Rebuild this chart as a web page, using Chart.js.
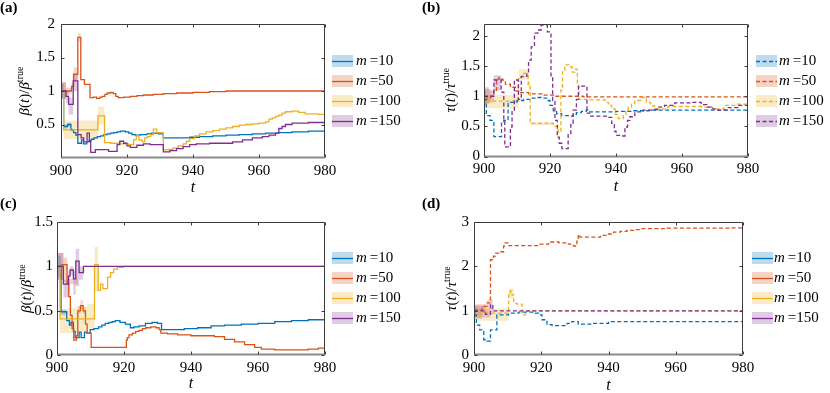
<!DOCTYPE html>
<html><head><meta charset="utf-8">
<script src="https://cdn.jsdelivr.net/npm/chart.js@4.4.1/dist/chart.umd.min.js"></script>
<style>
body{margin:0;background:#fff;width:830px;height:393px;overflow:hidden;position:relative}
canvas{position:absolute;display:block}
</style></head><body>
<canvas id="ca" width="415" height="196" style="left:0;top:0"></canvas>
<canvas id="cb" width="415" height="196" style="left:415px;top:0"></canvas>
<canvas id="cc" width="415" height="197" style="left:0;top:196px"></canvas>
<canvas id="cd" width="415" height="197" style="left:415px;top:196px"></canvas>
<script>
// ---------- data ----------
const mValues = ['10','50','100','150'];
const seriesColors = ['#0072BD','#D95319','#EDB120','#7E2F8E'];
const xTicks = [900,920,940,960,980];
const yTicksA = [0.5,1,1.5,2];
const yTicksB = [0,0.5,1,1.5,2];
const yTicksC = [0,0.5,1,1.5];
const yTicksD = [0,1,2,3];

// panel (a): beta(t)/beta_true, [t, value]
const a_m10 = [[900,1.0],[900.8,0.47],[902,0.5],[903,0.42],[903.8,0.38],[904.5,0.34],[905.1,0.22],[906.2,0.27],[906.8,0.21],[907.8,0.24],[908.5,0.26],[909.2,0.28],[910,0.3],[911,0.32],[912,0.33],[913,0.35],[914,0.36],[915,0.37],[916,0.38],[917,0.39],[918,0.4],[919.5,0.39],[920.5,0.37],[921.5,0.35],[922.5,0.34],[924,0.35],[926,0.36],[927.5,0.37],[929.5,0.36],[931,0.3],[935,0.3],[939,0.31],[942,0.32],[946,0.33],[950,0.34],[954,0.35],[958,0.36],[962,0.37],[966,0.38],[970,0.39],[975,0.4],[980,0.405]];
const a_m50 = [[900,1.0],[903.2,1.07],[903.8,1.25],[905.1,1.8],[906,1.17],[907.1,1.1],[908.8,0.9],[909.8,0.91],[910.8,0.89],[911.8,0.91],[912.5,0.92],[913.3,0.95],[914,0.97],[915,0.98],[915.8,0.96],[916.6,0.92],[917.3,0.9],[919,0.91],[921,0.92],[923,0.93],[925,0.94],[928,0.95],[931,0.96],[935,0.97],[940,0.98],[945,0.99],[950,1.0],[980,1.0]];
const a_m100 = [[900,1.0],[900.8,0.42],[911.2,0.63],[913.2,0.23],[915,0.22],[918,0.21],[920.5,0.2],[922,0.27],[922.8,0.33],[923.6,0.27],[924.6,0.24],[925.4,0.3],[926.2,0.32],[927.2,0.35],[928,0.43],[929,0.38],[931,0.12],[932.5,0.13],[934,0.15],[935.5,0.18],[937,0.21],[938,0.25],[939,0.29],[940.5,0.33],[942,0.36],[944,0.39],[946,0.41],[948,0.43],[950,0.45],[952,0.47],[954,0.49],[956,0.5],[958,0.51],[960,0.52],[962,0.54],[963,0.58],[964,0.6],[965,0.62],[966,0.64],[967,0.67],[968,0.69],[970,0.7],[972,0.68],[974,0.66],[976,0.66],[978,0.65],[980,0.64]];
const a_m150 = [[900,1.0],[901.5,0.92],[902.3,0.8],[903.7,1.15],[905.1,0.35],[906.1,0.3],[906.9,0.24],[907.9,0.37],[908.6,0.25],[909,0.085],[910.4,0.125],[914.4,0.1],[917,0.2],[917.8,0.25],[919,0.22],[920,0.18],[921,0.16],[923,0.19],[925,0.21],[927,0.2],[931,0.09],[933,0.11],[935,0.14],[937,0.17],[939,0.2],[941,0.21],[945,0.22],[950,0.22],[952,0.24],[955,0.27],[958,0.3],[961,0.32],[963,0.34],[965,0.37],[966,0.44],[967,0.47],[968,0.5],[970,0.52],[975,0.53],[980,0.52]];
// bands [t, low, high]
const a_m10_band = [[900,0.9,1.1],[900.8,0.44,0.5],[902,0.47,0.53],[903,0.4,0.44],[903.8,0.4,0.44]];
const a_m50_band = [[900,0.88,1.13],[901.5,0.95,1.05],[903.2,1.02,1.12],[903.8,1.15,1.35],[905.1,1.74,1.86],[906,1.74,1.86]];
const a_m100_band = [[900,0.9,1.1],[900.8,0.28,0.56],[911.2,0.5,0.77],[913.2,0.5,0.77]];
const a_m150_band = [[900,0.88,1.13],[901.5,0.82,1.0],[902.3,0.65,0.9],[903.7,1.0,1.25],[905.1,1.0,1.25]];

// panel (b): tau(t)/tau_true
const b_m10 = [[900,0.95],[900.7,0.68],[901.8,0.6],[903,0.33],[905.3,0.55],[906,0.6],[907.3,0.88],[908,0.9],[910,0.93],[912,0.95],[914,0.97],[916,0.98],[918,0.97],[919,0.93],[920,0.85],[921,0.76],[922,0.71],[923.5,0.68],[926,0.67],[927,0.7],[928,0.73],[929.5,0.75],[931,0.77],[932,0.74],[936,0.74],[940,0.75],[945,0.76],[950,0.77],[980,0.77]];
const b_m50 = [[900,0.97],[902,1.0],[903,1.1],[903.8,1.28],[904.5,1.31],[905.5,1.27],[906.5,1.2],[908,1.15],[909.5,1.09],[910.5,1.06],[913.5,1.04],[917.5,1.02],[921.5,1.0],[930,0.99],[980,0.99]];
const b_m100 = [[900,1.0],[900.5,0.92],[910.5,1.32],[912,1.38],[913.4,1.2],[914,0.55],[921,0.5],[922.5,0.4],[923.3,1.1],[923.8,1.43],[924.5,1.52],[926,1.49],[926.7,1.4],[927.5,1.45],[928.3,1.2],[928.8,0.95],[931,0.94],[936.7,0.9],[937.7,0.85],[938.7,0.79],[939.7,0.7],[940.7,0.63],[942.2,0.68],[943,0.75],[943.7,0.82],[944.7,0.88],[945.7,0.93],[947.7,0.98],[949.2,0.9],[950.5,0.84],[951.7,0.79],[955.7,0.83],[966,0.82],[969.3,0.79],[972.8,0.85],[976,0.87],[980,0.89]];
const b_m150 = [[900,1.0],[903,1.27],[905.2,1.07],[906,0.6],[906.3,0.16],[908,0.49],[908.5,0.77],[909.2,1.27],[910.4,0.95],[911.3,1.33],[913,1.38],[913.5,1.6],[914.3,1.82],[915.3,2.05],[916.3,2.1],[917.3,2.18],[919.2,2.07],[920.3,1.32],[920.8,0.93],[921.5,0.6],[922.2,0.32],[922.8,0.22],[923.6,0.13],[925.5,0.38],[926.3,0.55],[927,0.77],[928,0.95],[928.6,1.17],[931.2,0.72],[932.3,0.67],[937,0.65],[938.7,0.55],[939.5,0.42],[940,0.35],[941.5,0.34],[942.7,0.49],[943.5,0.6],[944.2,0.66],[945.7,0.74],[948.2,0.77],[951.7,0.78],[953,0.82],[954.7,0.85],[957.8,0.89],[962.8,0.9],[965.8,0.86],[967.5,0.82],[968.8,0.79],[970.8,0.77],[973.8,0.81],[976.9,0.85],[980,0.83]];
const b_m10_band = [[900,0.85,1.1],[900.7,0.85,1.1]];
const b_m50_band = [[900,0.88,1.12],[902,0.9,1.08],[902,0.9,1.08]];
const b_m100_band = [[900.5,0.8,1.02],[910.5,1.28,1.45],[913.4,1.15,1.25],[914,0.52,0.57],[921,0.52,0.57]];
const b_m150_band = [[900,0.88,1.15],[901.5,0.9,1.1],[903,1.1,1.35],[905.2,1.1,1.35]];

// panel (c): beta(t)/beta_true
const c_m10 = [[900,1.0],[901.2,0.49],[902.9,0.39],[903.7,0.34],[904.2,0.37],[904.9,0.27],[905.4,0.2],[906.6,0.26],[907.2,0.2],[908.2,0.26],[908.9,0.25],[909.9,0.29],[911,0.3],[912.4,0.32],[913.4,0.34],[914.4,0.36],[915.5,0.37],[916.5,0.38],[917.4,0.39],[918.8,0.37],[920.4,0.35],[921.9,0.31],[923,0.32],[924.5,0.33],[926.4,0.36],[928.4,0.37],[930,0.36],[931.2,0.29],[935,0.29],[938,0.3],[942,0.31],[946,0.33],[950,0.34],[955,0.35],[960,0.36],[965,0.38],[970,0.39],[975,0.4],[980,0.4]];
const c_m50 = [[900,1.0],[901.5,1.02],[903,0.8],[903.5,0.66],[904,0.45],[904.5,0.3],[905,0.17],[905.8,0.22],[906.2,0.5],[907,0.56],[907.8,0.5],[908.5,0.35],[909,0.25],[910.2,0.09],[920.7,0.17],[921,0.2],[921.5,0.23],[922.5,0.25],[923.5,0.27],[924.5,0.28],[925.5,0.3],[926.5,0.31],[928,0.32],[929.5,0.31],[930.5,0.29],[931,0.25],[933,0.24],[936,0.23],[940,0.22],[945,0.22],[947,0.21],[950,0.18],[953,0.15],[956,0.12],[959,0.09],[961,0.07],[965,0.06],[970,0.06],[975,0.07],[978,0.08],[980,0.1]];
const c_m100 = [[900,1.0],[900.9,0.41],[911.2,1.02],[912.3,0.73],[913,0.8],[913.7,0.75],[915.1,0.88],[916,0.93],[916.9,0.97],[918,0.99],[920,1.0],[980,1.0]];
const c_m150 = [[900,1.0],[901.9,0.8],[903.4,0.89],[903.9,0.96],[904.9,0.86],[905.6,1.06],[906.6,0.93],[907.9,1.0],[980,1.0]];
const c_m10_band = [[900,0.88,1.12],[901.2,0.45,0.52],[902.9,0.45,0.52]];
const c_m50_band = [[900,0.85,1.15],[901.9,0.83,1.1],[903,0.8,0.86],[903.5,0.8,0.86],[906.2,0.47,0.55],[907,0.52,0.62],[907.8,0.47,0.54],[908.5,0.47,0.54]];
const c_m100_band = [[900.9,0.25,0.5],[903,0.25,0.53],[906,0.27,0.55],[909,0.3,0.58],[911.2,0.72,1.22],[912.3,0.72,1.22]];
const c_m150_band = [[900,0.85,1.15],[901.9,0.65,0.85],[903.4,0.7,0.95],[903.9,0.9,1.0],[904.9,0.68,0.95],[905.6,0.78,1.2],[906.6,0.85,1.0],[907.9,0.85,1.0]];

// panel (d): tau(t)/tau_true
const d_m10 = [[900,0.91],[900.7,0.68],[901.7,0.57],[902.9,0.35],[903.9,0.32],[904.9,0.57],[906.8,0.91],[910.3,0.95],[913.3,0.97],[918.2,0.95],[919.2,0.91],[920.2,0.8],[921.7,0.69],[923.2,0.67],[927.7,0.72],[929.1,0.76],[931,0.7],[935,0.72],[940,0.76],[980,0.76]];
const d_m50 = [[900,1.02],[902.4,1.1],[903.9,1.18],[904.9,2.15],[905.8,2.23],[906.4,2.3],[907.3,2.33],[908.8,2.46],[909.3,2.53],[910.1,2.47],[919.2,2.5],[922.2,2.55],[925.2,2.53],[928.1,2.5],[929.6,2.46],[930.6,2.57],[931,2.71],[931.5,2.66],[937.6,2.7],[939.5,2.73],[941.5,2.77],[943.5,2.79],[945.5,2.81],[947.5,2.83],[949.5,2.85],[957.4,2.86],[971.3,2.86],[976,2.87],[980,2.88]];
const d_m100 = [[900,1.0],[900.8,0.95],[910.3,1.36],[910.8,1.45],[911.3,1.36],[911.8,1.17],[912.8,1.15],[914.3,0.95],[914.8,0.91],[915.3,0.99],[916,1.0],[980,1.0]];
const d_m150 = [[900,1.0],[903.4,0.92],[904.9,1.14],[905.6,1.0],[980,1.0]];
const d_m10_band = [[900,0.85,1.1],[900.7,0.85,1.1]];
const d_m50_band = [[900,0.82,1.15],[902.4,0.95,1.15],[903.9,1.0,1.25],[904.9,1.0,1.25]];
const d_m100_band = [[900.8,0.78,1.05],[910.3,1.28,1.5],[911.8,1.28,1.5]];
const d_m150_band = [[900,0.85,1.12],[903.4,0.85,1.0],[904.9,0.98,1.25],[905.6,0.98,1.25]];

// ---------- helpers ----------
function rgba(hex, a){const n=parseInt(hex.slice(1),16);return `rgba(${n>>16},${(n>>8)&255},${n&255},${a})`;}
function lineDs(arr, color, dashed, order){
  return {data:arr.map(p=>({x:p[0],y:p[1]})), borderColor:color, borderWidth:1.3,
    borderDash: dashed?[4,2.5]:[], stepped:true, pointRadius:0, fill:false, order:order};
}
function bandDs(arr, color){
  return [
    {data:arr.map(p=>({x:p[0],y:p[2]})), borderColor:'rgba(0,0,0,0)', borderWidth:0, stepped:true, pointRadius:0, fill:false, order:20},
    {data:arr.map(p=>({x:p[0],y:p[1]})), borderColor:'rgba(0,0,0,0)', borderWidth:0, stepped:true, pointRadius:0, fill:'-1', backgroundColor:rgba(color,0.25), order:20}
  ];
}
const SERIF = '"Liberation Serif", "DejaVu Serif", serif';

function deco(p){
  return {id:'deco', afterDraw(chart){
    const ctx=chart.ctx, a=chart.chartArea, xs=chart.scales.x, ys=chart.scales.y;
    ctx.save();
    // frame
    const L=Math.round(a.left)+0.5, T=Math.round(a.top)+0.5, R=Math.round(a.right)-0.5, B=Math.round(a.bottom)-0.5;
    ctx.strokeStyle='#3c3c3c'; ctx.lineWidth=1; ctx.setLineDash([]);
    ctx.beginPath(); ctx.moveTo(L,B); ctx.lineTo(L,T); ctx.lineTo(R,T); ctx.lineTo(R,B); ctx.stroke();
    ctx.strokeStyle='#8a8a8a'; ctx.lineWidth=2;
    ctx.beginPath(); ctx.moveTo(L-0.5,B); ctx.lineTo(R+0.5,B); ctx.stroke();
    // inward ticks
    ctx.strokeStyle='#3c3c3c'; ctx.lineWidth=1;
    ctx.beginPath();
    xTicks.forEach(v=>{const x=Math.round(xs.getPixelForValue(v))+0.5; ctx.moveTo(x,B); ctx.lineTo(x,B-3); ctx.moveTo(x,T); ctx.lineTo(x,T+3);});
    p.yTicks.forEach(v=>{const y=Math.round(ys.getPixelForValue(v))+0.5; ctx.moveTo(L,y); ctx.lineTo(L+3,y); ctx.moveTo(R,y); ctx.lineTo(R-3,y);});
    ctx.stroke();
    // legend
    ctx.textBaseline='middle';
    mValues.forEach((m,i)=>{
      const y=p.legend.y0+20*i, c=seriesColors[i];
      ctx.fillStyle=rgba(c,0.25); ctx.fillRect(p.legend.ix, y-6, 21, 12);
      ctx.strokeStyle=c; ctx.lineWidth=1.3; ctx.setLineDash(p.legendDashed?[4,2.5]:[]);
      ctx.beginPath(); ctx.moveTo(p.legend.ix, y+0.5); ctx.lineTo(p.legend.ix+21, y+0.5); ctx.stroke();
      ctx.setLineDash([]);
      ctx.fillStyle='#000'; ctx.textAlign='left';
      ctx.font='italic 15px '+SERIF; ctx.fillText('m', p.legend.tx, y);
      const w=ctx.measureText('m').width;
      ctx.font='15px '+SERIF; ctx.fillText('=' + m, p.legend.tx+w+3, y);
    });
    // y title (rotated)
    const cy=(a.top+a.bottom)/2;
    ctx.translate(p.yTitleX, cy); ctx.rotate(-Math.PI/2);
    const parts=[[p.sym,'italic 15px',0],['(','15px',0],['t','italic 15px',0],[')/','15px',0],[p.sym,'italic 15px',0],['true','10px',-6]];
    let tw=0; parts.forEach(q=>{ctx.font=q[1]+' '+SERIF; tw+=ctx.measureText(q[0]).width;});
    let x0=-tw/2; ctx.fillStyle='#000'; ctx.textAlign='left'; ctx.textBaseline='alphabetic';
    parts.forEach(q=>{ctx.font=q[1]+' '+SERIF; ctx.fillText(q[0], x0, 5+q[2]); x0+=ctx.measureText(q[0]).width;});
    ctx.setTransform(1,0,0,1,0,0);
    // x title
    ctx.font='italic 16px '+SERIF; ctx.textAlign='center'; ctx.textBaseline='middle';
    ctx.fillText('t', (a.left+a.right)/2, p.xTitleY);
    // panel label
    ctx.font='bold 15px '+SERIF; ctx.textAlign='left'; ctx.textBaseline='top';
    ctx.fillText(p.label, p.labelX, 1);
    ctx.restore();
  }};
}

function makeChart(p){
  const cv=document.getElementById(p.canvas);
  const W=cv.width, H=cv.height;
  const datasets=[];
  p.bands.forEach((b,i)=>datasets.push(...bandDs(b, seriesColors[i])));
  p.lines.forEach((l,i)=>datasets.push(lineDs(l, seriesColors[i], p.dashed, 4-i)));
  new Chart(cv, {
    type:'line',
    data:{datasets},
    options:{
      responsive:false, animation:false, events:[],
      layout:{padding:{top:p.area.t, right:W-p.area.r, left:0, bottom:0}},
      plugins:{legend:{display:false}, tooltip:{enabled:false}},
      scales:{
        x:{type:'linear', min:900, max:980,
          afterFit(s){s.height=H-p.area.b;},
          afterBuildTicks(s){s.ticks=xTicks.map(v=>({value:v}));},
          grid:{display:false, drawTicks:false}, border:{display:false},
          ticks:{padding:4, color:'#000', maxRotation:0, font:{family:SERIF, size:15}, callback:v=>String(v)}},
        y:{type:'linear', min:p.ymin, max:p.ymax,
          afterFit(s){s.width=p.area.l;},
          afterBuildTicks(s){s.ticks=p.yTicks.map(v=>({value:v}));},
          grid:{display:false, drawTicks:false}, border:{display:false},
          ticks:{padding:p.yPad, color:'#000', font:{family:SERIF, size:15}, callback:v=>String(v)}}
      }
    },
    plugins:[deco(p)]
  });
}

makeChart({canvas:'ca', area:{l:61,t:24,r:325,b:158}, ymin:0, ymax:2, yTicks:yTicksA, dashed:false, legendDashed:false,
  sym:'β', label:'(a)', labelX:0, yTitleX:24, legend:{ix:332,tx:356,y0:61}, xTitleY:188, yPad:6,
  lines:[a_m10,a_m50,a_m100,a_m150], bands:[a_m10_band,a_m50_band,a_m100_band,a_m150_band]});
makeChart({canvas:'cb', area:{l:69,t:24,r:333,b:156.5}, ymin:0, ymax:2.2, yTicks:yTicksB, dashed:true, legendDashed:true,
  sym:'τ', label:'(b)', labelX:7, yTitleX:35, legend:{ix:341,tx:364,y0:61}, xTitleY:187, yPad:4,
  lines:[b_m10,b_m50,b_m100,b_m150], bands:[b_m10_band,b_m50_band,b_m100_band,b_m150_band]});
makeChart({canvas:'cc', area:{l:57,t:26,r:325,b:159.3}, ymin:0, ymax:1.5, yTicks:yTicksC, dashed:false, legendDashed:false,
  sym:'β', label:'(c)', labelX:0, yTitleX:26, legend:{ix:332,tx:356,y0:62}, xTitleY:188, yPad:4,
  lines:[c_m10,c_m50,c_m100,c_m150], bands:[c_m10_band,c_m50_band,c_m100_band,c_m150_band]});
makeChart({canvas:'cd', area:{l:59,t:26,r:328,b:159.3}, ymin:0, ymax:3, yTicks:yTicksD, dashed:true, legendDashed:false,
  sym:'τ', label:'(d)', labelX:7, yTitleX:36, legend:{ix:337,tx:359,y0:62}, xTitleY:190, yPad:5,
  lines:[d_m10,d_m50,d_m100,d_m150], bands:[d_m10_band,d_m50_band,d_m100_band,d_m150_band]});
</script>
</body></html>
